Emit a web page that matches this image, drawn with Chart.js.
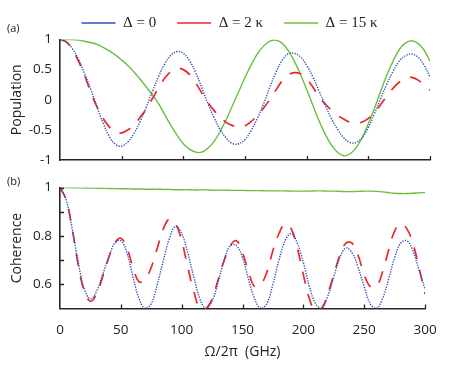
<!DOCTYPE html>
<html>
<head>
<meta charset="utf-8">
<script src="https://cdn.jsdelivr.net/npm/chart.js@4.4.0/dist/chart.umd.min.js"></script>
<style>
html, body { margin: 0; padding: 0; background: #fff; }
#wrap { position: relative; width: 450px; height: 368px; overflow: hidden; }
canvas { position: absolute; left: 0; }
#cPop { top: 0; }
#cCoh { top: 170px; }
.tag { position: absolute; left: 7px; font: 11px 'Open Sans', sans-serif; color: #222; line-height: 15px; }
</style>
</head>
<body>
<div id="wrap">
  <canvas id="cPop" width="450" height="177"></canvas>
  <canvas id="cCoh" width="450" height="198"></canvas>
  <div class="tag" style="top:20px">(a)</div>
  <div class="tag" style="top:173px">(b)</div>
</div>
<script>
// Omega/2pi in GHz
const omega = [0, 5, 10, 15, 20, 25, 30, 35, 40, 45, 50, 55, 60, 65, 70, 75, 80, 85, 90, 95,
  100, 105, 110, 115, 120, 125, 130, 135, 140, 145, 150, 155, 160, 165, 170, 175, 180, 185, 190, 195,
  200, 205, 210, 215, 220, 225, 230, 235, 240, 245, 250, 255, 260, 265, 270, 275, 280, 285, 290, 295, 300];

// (a) population
const popDelta0 = [1.00, 0.96, 0.85, 0.67, 0.43, 0.17, -0.12, -0.39, -0.61, -0.74,
  -0.77, -0.70, -0.56, -0.36, -0.12, 0.14, 0.39, 0.60, 0.74, 0.80,
  0.77, 0.65, 0.45, 0.20, -0.07, -0.30, -0.50, -0.64, -0.73, -0.73,
  -0.66, -0.51, -0.31, -0.07, 0.20, 0.45, 0.65, 0.76, 0.77, 0.71,
  0.57, 0.38, 0.15, -0.09, -0.31, -0.49, -0.63, -0.71, -0.71, -0.63,
  -0.46, -0.23, 0.02, 0.26, 0.47, 0.64, 0.73, 0.76, 0.71, 0.58, 0.38];
const popDelta2 = [1.00, 0.96, 0.84, 0.64, 0.40, 0.12, -0.12, -0.31, -0.45, -0.54,
  -0.55, -0.50, -0.42, -0.29, -0.15, 0.02, 0.20, 0.36, 0.47, 0.52,
  0.50, 0.42, 0.28, 0.11, -0.05, -0.18, -0.29, -0.38, -0.43, -0.45,
  -0.43, -0.36, -0.26, -0.14, 0.00, 0.16, 0.31, 0.41, 0.45, 0.43,
  0.35, 0.21, 0.05, -0.07, -0.17, -0.26, -0.32, -0.37, -0.39, -0.37,
  -0.31, -0.21, -0.08, 0.06, 0.19, 0.29, 0.35, 0.37, 0.33, 0.25, 0.16];
const popDelta15 = [1.00, 1.00, 1.00, 0.99, 0.97, 0.95, 0.92, 0.87, 0.81, 0.74,
  0.66, 0.57, 0.46, 0.34, 0.21, 0.08, -0.07, -0.25, -0.43, -0.59,
  -0.73, -0.82, -0.87, -0.87, -0.80, -0.69, -0.52, -0.32, -0.09, 0.14,
  0.37, 0.58, 0.76, 0.89, 0.97, 0.99, 0.94, 0.82, 0.64, 0.42,
  0.17, -0.09, -0.35, -0.57, -0.75, -0.87, -0.93, -0.90, -0.80, -0.63,
  -0.40, -0.14, 0.14, 0.41, 0.64, 0.83, 0.94, 0.98, 0.94, 0.83, 0.64];

// (b) coherence
const cohDelta0 = [1.00, 0.95, 0.83, 0.69, 0.58, 0.54, 0.57, 0.64, 0.71, 0.77,
  0.78, 0.73, 0.63, 0.54, 0.50, 0.52, 0.60, 0.70, 0.79, 0.84,
  0.81, 0.73, 0.63, 0.54, 0.50, 0.53, 0.61, 0.70, 0.76, 0.76,
  0.71, 0.62, 0.54, 0.50, 0.52, 0.60, 0.70, 0.78, 0.81, 0.77,
  0.69, 0.59, 0.52, 0.50, 0.55, 0.63, 0.71, 0.75, 0.73, 0.67,
  0.59, 0.52, 0.50, 0.54, 0.62, 0.71, 0.77, 0.78, 0.74, 0.66, 0.58];
const cohDelta2 = [1.00, 0.95, 0.83, 0.68, 0.57, 0.53, 0.56, 0.63, 0.71, 0.77,
  0.79, 0.75, 0.67, 0.61, 0.62, 0.67, 0.75, 0.83, 0.87, 0.85,
  0.78, 0.67, 0.57, 0.50, 0.50, 0.54, 0.62, 0.70, 0.76, 0.78,
  0.73, 0.65, 0.59, 0.60, 0.65, 0.74, 0.81, 0.85, 0.83, 0.75,
  0.64, 0.54, 0.49, 0.50, 0.56, 0.64, 0.72, 0.77, 0.77, 0.72,
  0.64, 0.59, 0.59, 0.65, 0.74, 0.82, 0.85, 0.83, 0.77, 0.67, 0.56];
const cohDelta15 = [1.000, 1.000, 0.999, 0.999, 0.998, 0.998, 0.997, 0.997, 0.996, 0.996,
  0.995, 0.995, 0.994, 0.994, 0.993, 0.993, 0.993, 0.992, 0.992, 0.991,
  0.991, 0.991, 0.990, 0.990, 0.990, 0.989, 0.989, 0.989, 0.988, 0.988,
  0.988, 0.987, 0.987, 0.987, 0.986, 0.986, 0.986, 0.986, 0.985, 0.985,
  0.985, 0.985, 0.986, 0.986, 0.985, 0.985, 0.984, 0.983, 0.983, 0.984,
  0.985, 0.985, 0.984, 0.982, 0.979, 0.976, 0.975, 0.975, 0.976, 0.978, 0.979];

const legendNames = ['\u0394 = 0', '\u0394 = 2 \u03ba', '\u0394 = 15 \u03ba'];
const cohLabelled = [0.6, 0.8, 1];

const AXIS = '#262626';
const TEXT = '#222';
const BLUE = '#2f4fb8';
const RED = '#e8282e';
const GREEN = '#6abf3f';
const tickFont = { family: "'Open Sans', sans-serif", size: 13.5 };
const titleFont = { family: "'Open Sans', sans-serif", size: 14 };

// ticks pointing into the plot, like the original figure
const inTicks = {
    id: 'inTicks',
    afterDraw(chart, args, opts) {
        const { ctx, chartArea } = chart;
        const { left, bottom } = chartArea;
        ctx.save();
        ctx.strokeStyle = AXIS;
        ctx.lineWidth = 1.3;
        ctx.beginPath();
        const xs = chart.scales.x;
        xs.ticks.forEach((t, i) => {
            if (t.value === xs.min) return;
            const px = Math.round(xs.getPixelForTick(i)) + 0.5;
            ctx.moveTo(px, bottom);
            ctx.lineTo(px, bottom - opts.len);
        });
        if (opts.y) {
            const ys = chart.scales.y;
            ys.ticks.forEach((t, i) => {
                if (t.value === ys.min) return;
                const py = Math.round(ys.getPixelForTick(i)) + 0.5;
                ctx.moveTo(left, py);
                ctx.lineTo(left + opts.len, py);
            });
        }
        ctx.stroke();
        ctx.restore();
    }
};

// keep the legend short and move it where the figure has it
const legendFit = {
    id: 'legendFit',
    beforeLayout(chart, args, opts) {
        const lg = chart.legend;
        if (lg && !lg._fitPatched) {
            const fit = lg.fit;
            lg.fit = function () { fit.call(this); this.height = opts.height; };
            lg._fitPatched = true;
        }
    },
    afterLayout(chart, args, opts) {
        const lg = chart.legend;
        if (!lg) return;
        lg.left += opts.dx; lg.right += opts.dx;
        lg.top += opts.dy; lg.bottom += opts.dy;
    }
};

const blueStyle = { borderColor: BLUE, borderWidth: 1.4, borderDash: [1.3, 1.3] };
const redStyle = { borderColor: RED, borderWidth: 1.7, borderDash: [12, 11] };
const greenStyle = { borderColor: GREEN, borderWidth: 1.4 };

// Population chart (a)
new Chart(document.getElementById('cPop'), {
    type: 'line',
    data: {
        labels: omega,
        datasets: [
            { label: legendNames[0], data: popDelta0, ...blueStyle },
            { label: legendNames[1], data: popDelta2, ...redStyle },
            { label: legendNames[2], data: popDelta15, ...greenStyle }
        ]
    },
    options: {
        responsive: false,
        animation: false,
        elements: { point: { radius: 0 }, line: { tension: 0.4 } },
        layout: { padding: { top: 0, right: 20, left: 0, bottom: 0 } },
        plugins: {
            legend: {
                labels: {
                    usePointStyle: true,
                    pointStyle: 'line',
                    pointStyleWidth: 34,
                    padding: 21,
                    color: TEXT,
                    font: { family: "'Liberation Serif', 'DejaVu Serif', serif", size: 15 }
                }
            },
            tooltip: { enabled: false },
            inTicks: { len: 4, y: false },
            legendFit: { height: 39.5, dx: 14.5, dy: -5.5 }
        },
        scales: {
            x: {
                type: 'linear', min: 0, max: 300,
                ticks: { stepSize: 50, display: false },
                grid: { display: false, drawTicks: false },
                border: { color: AXIS, width: 1.6 },
                afterFit: s => { s.height = 17; }
            },
            y: {
                min: -1, max: 1,
                ticks: { stepSize: 0.5, padding: 8, color: TEXT, font: tickFont, callback: v => String(v) },
                grid: { display: false, drawTicks: false },
                border: { color: AXIS, width: 1.6 },
                title: { display: true, text: 'Population', color: TEXT, font: titleFont, padding: { top: 8.6, bottom: 0 } },
                afterFit: s => { s.width = 60; }
            }
        }
    },
    plugins: [inTicks, legendFit]
});

// Coherence chart (b)
new Chart(document.getElementById('cCoh'), {
    type: 'line',
    data: {
        labels: omega,
        datasets: [
            { label: legendNames[0], data: cohDelta0, ...blueStyle },
            { label: legendNames[1], data: cohDelta2, ...redStyle },
            { label: legendNames[2], data: cohDelta15, ...greenStyle }
        ]
    },
    options: {
        responsive: false,
        animation: false,
        elements: { point: { radius: 0 }, line: { tension: 0.4 } },
        layout: { padding: { top: 17.5, right: 20, left: 0, bottom: 0 } },
        plugins: {
            legend: { display: false },
            tooltip: { enabled: false },
            inTicks: { len: 4, y: true }
        },
        scales: {
            x: {
                type: 'linear', min: 0, max: 300,
                ticks: { stepSize: 50, padding: 13.4, color: TEXT, font: tickFont, maxRotation: 0 },
                grid: { display: false, drawTicks: false },
                border: { color: AXIS, width: 1.6 },
                title: { display: true, text: '\u03a9/2\u03c0  (GHz)', color: TEXT, font: titleFont, padding: { top: 0, bottom: 7.6 } },
                afterFit: s => { s.height = 59.5; }
            },
            y: {
                min: 0.5, max: 1,
                ticks: {
                    stepSize: 0.1, padding: 8, color: TEXT, font: tickFont,
                    callback: v => {
                        const r = Math.round(v * 10) / 10;
                        return cohLabelled.includes(r) ? String(r) : '';
                    }
                },
                grid: { display: false, drawTicks: false },
                border: { color: AXIS, width: 1.6 },
                title: { display: true, text: 'Coherence', color: TEXT, font: titleFont, padding: { top: 8.6, bottom: 0 } },
                afterFit: s => { s.width = 60; }
            }
        }
    },
    plugins: [inTicks]
});
</script>
</body>
</html>
